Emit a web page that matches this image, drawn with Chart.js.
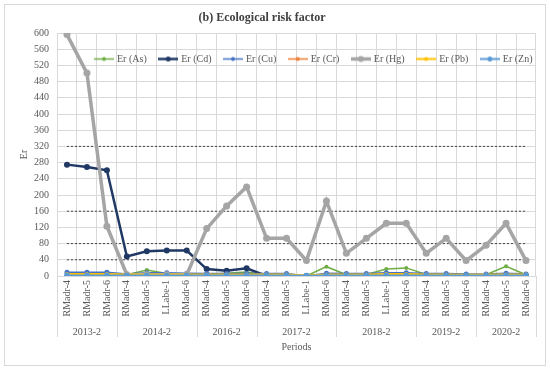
<!DOCTYPE html>
<html>
<head>
<meta charset="utf-8">
<script src="https://cdn.jsdelivr.net/npm/chart.js@4/dist/chart.umd.min.js"></script>
<style>
  html, body { margin: 0; padding: 0; background: #fff; }
  canvas { display: block; }
</style>
</head>
<body>
<canvas id="chart" width="550" height="371"></canvas>
<script>
const stations = [
  'RMadr-4', 'RMadr-5', 'RMadr-6',
  'RMadr-4', 'RMadr-5', 'LLabe-1', 'RMadr-6',
  'RMadr-4', 'RMadr-5', 'RMadr-6',
  'RMadr-4', 'RMadr-5', 'LLabe-1', 'RMadr-6',
  'RMadr-4', 'RMadr-5', 'LLabe-1', 'RMadr-6',
  'RMadr-4', 'RMadr-5', 'RMadr-6',
  'RMadr-4', 'RMadr-5', 'RMadr-6'
];
const periods = ['2013-2', '2014-2', '2016-2', '2017-2', '2018-2', '2019-2', '2020-2'];
const periodSizes = [3, 4, 3, 4, 4, 3, 3];

const erAs = [1, 1, 1, 3, 15, 6, 3, 4, 7, 10, 4, 4, 0, 23, 3, 4, 17, 20, 4, 4, 3, 3, 24, 3];
const erCd = [275, 269, 261, 48, 61, 63, 63, 17, 13, 19, 0.5, 0.5, 0, 0.5, 0.5, 0.5, 0.5, 0.5, 0.5, 0.5, 0.5, 0.5, 0.5, 0.5];
const erCu = [9, 9, 9, 5, 8, 8, 7, 6, 6, 6, 6, 6, 0, 7, 6, 6, 8, 8, 6, 6, 5, 5, 7, 5];
const erCr = [3, 3, 3, 3, 3, 3, 3, 3, 3, 3, 3, 3, 1, 3, 3, 3, 3, 3, 3, 3, 3, 3, 3, 3];
const erHg = [596, 501, 123, 3, 3, 3, 3, 117, 173, 220, 93, 93, 38, 185, 56, 93, 130, 130, 56, 93, 38, 76, 130, 38];
const erPb = [5, 5, 5, 4, 4, 4, 4, 4, 4, 4, 4, 4, 1, 4, 4, 4, 5, 5, 4, 4, 3, 4, 4, 4];
const erZn = [1.5, 1.5, 1.5, 1, 1, 1, 1, 1, 1, 1, 1, 1, 0.5, 1, 1, 1, 1.5, 1.5, 1, 1, 1, 1, 1, 1];

// risk class limits, drawn as dotted lines
const thresholds = [40, 80, 160, 320];

const FONT = '"Liberation Serif", "Times New Roman", serif';
const TEXT = '#595959';
const GRID = '#d9d9d9';

const series = [
  { label: 'Er (As)', data: erAs, color: '#70ad47', width: 1.5, radius: 2 },
  { label: 'Er (Cd)', data: erCd, color: '#1f3864', width: 2.5, radius: 3 },
  { label: 'Er (Cu)', data: erCu, color: '#4472c4', width: 1.5, radius: 2.5 },
  { label: 'Er (Cr)', data: erCr, color: '#ed7d31', width: 1.5, radius: 2 },
  { label: 'Er (Hg)', data: erHg, color: '#a5a5a5', width: 3.5, radius: 3.5 },
  { label: 'Er (Pb)', data: erPb, color: '#ffc000', width: 2, radius: 2 },
  { label: 'Er (Zn)', data: erZn, color: '#5b9bd5', width: 2, radius: 3 }
];

// line-with-marker swatch for the legend
const legendIcon = (s) => {
  const c = document.createElement('canvas');
  c.width = 20;
  c.height = 9;
  const ctx = c.getContext('2d');
  ctx.strokeStyle = s.color;
  ctx.lineWidth = s.width;
  ctx.beginPath();
  ctx.moveTo(0, 4.5);
  ctx.lineTo(20, 4.5);
  ctx.stroke();
  ctx.fillStyle = s.color;
  ctx.beginPath();
  ctx.arc(10, 4.5, Math.max(2, s.radius - 0.5), 0, Math.PI * 2);
  ctx.fill();
  return c;
};
const icons = series.map(legendIcon);

const datasets = series.map((s, i) => ({
  label: s.label,
  data: s.data,
  borderColor: s.color,
  backgroundColor: s.color,
  pointBackgroundColor: s.color,
  borderWidth: s.width,
  pointRadius: s.radius,
  pointBorderWidth: 0,
  tension: 0,
  order: series.length - i
}));
thresholds.forEach((t) => {
  datasets.push({
    label: 'limit ' + t,
    data: stations.map(() => t),
    borderColor: '#404040',
    borderWidth: 1,
    borderDash: [2, 2],
    pointRadius: 0,
    order: 20
  });
});

const framePlugin = {
  id: 'frame',
  beforeLayout(chart) {
    // legend is drawn over the plot, so it should take no room at the top
    const legend = chart.legend;
    if (legend && !legend._noRoom) {
      const fit = legend.fit;
      legend.fit = function () {
        fit.call(this);
        this._realHeight = this.height;
        this.height = 0;
      };
      legend._noRoom = true;
    }
  },
  beforeDraw(chart) {
    const { ctx } = chart;
    ctx.save();
    ctx.fillStyle = '#fff';
    ctx.fillRect(0, 0, chart.width, chart.height);
    ctx.strokeStyle = GRID;
    ctx.lineWidth = 1;
    ctx.strokeRect(4.5, 4.5, 541, 361);
    ctx.fillStyle = '#404040';
    ctx.font = 'bold 12px ' + FONT;
    ctx.textAlign = 'center';
    ctx.textBaseline = 'middle';
    ctx.fillText('(b) Ecological risk factor', 262, 18);
    ctx.restore();
    const legend = chart.legend;
    legend.top = 40.5;
    legend.height = legend._realHeight || 40;
    legend.bottom = legend.top + legend.height;
    legend.left = 82.5;
    legend.right = 620;
    legend.width = legend.right - legend.left;
  },
  afterDraw(chart) {
    const { ctx } = chart;
    const x = chart.scales.x;
    const bottom = chart.chartArea.bottom;
    const step = x.getPixelForValue(1) - x.getPixelForValue(0);
    ctx.save();
    ctx.strokeStyle = GRID;
    ctx.lineWidth = 1;
    ctx.fillStyle = TEXT;
    ctx.font = '10px ' + FONT;
    ctx.textAlign = 'center';
    ctx.textBaseline = 'middle';
    let start = 0;
    const first = Math.round(x.getPixelForValue(0) - step / 2) + 0.5;
    ctx.beginPath();
    ctx.moveTo(first, bottom);
    ctx.lineTo(first, 337);
    ctx.stroke();
    periods.forEach((p, i) => {
      const end = start + periodSizes[i] - 1;
      const left = x.getPixelForValue(start) - step / 2;
      const right = x.getPixelForValue(end) + step / 2;
      const rx = Math.round(right) + 0.5;
      ctx.beginPath();
      ctx.moveTo(rx, bottom);
      ctx.lineTo(rx, 337);
      ctx.stroke();
      ctx.fillText(p, (left + right) / 2, 332);
      start = end + 1;
    });
    ctx.restore();
  }
};

new Chart(document.getElementById('chart'), {
  type: 'line',
  data: { labels: stations, datasets },
  options: {
    responsive: false,
    animation: false,
    events: [],
    layout: { padding: { left: 8, right: 14, top: 33, bottom: 18 } },
    scales: {
      x: {
        type: 'category',
        offset: true,
        grid: { color: GRID, offset: true, drawTicks: false },
        border: { color: GRID },
        ticks: {
          autoSkip: false,
          maxRotation: 90,
          minRotation: 90,
          padding: 4,
          color: TEXT,
          font: { family: FONT, size: 10 }
        },
        title: {
          display: true,
          text: 'Periods',
          color: TEXT,
          font: { family: FONT, size: 10 },
          padding: { top: 0, bottom: 0 }
        },
        afterFit(s) { s.height = 77; }
      },
      y: {
        min: 0,
        max: 600,
        grid: { color: GRID, drawTicks: false },
        border: { color: GRID },
        ticks: { stepSize: 40, padding: 8, color: TEXT, font: { family: FONT, size: 10 } },
        title: {
          display: true,
          text: 'Er',
          color: TEXT,
          font: { family: FONT, size: 10 },
          padding: { top: 10, bottom: 0 }
        },
        afterFit(s) { s.width = 49; }
      }
    },
    plugins: {
      title: { display: false },
      tooltip: { enabled: false },
      legend: {
        position: 'top',
        align: 'start',
        labels: {
          usePointStyle: true,
          pointStyleWidth: 16,
          padding: 13.5,
          color: TEXT,
          font: { family: FONT, size: 10 },
          filter: (item) => item.datasetIndex < series.length,
          sort: (a, b) => a.datasetIndex - b.datasetIndex,
          generateLabels(chart) {
            const items = Chart.defaults.plugins.legend.labels.generateLabels(chart);
            items.forEach((it) => {
              if (icons[it.datasetIndex]) it.pointStyle = icons[it.datasetIndex];
            });
            return items;
          }
        }
      }
    }
  },
  plugins: [framePlugin]
});
</script>
</body>
</html>
